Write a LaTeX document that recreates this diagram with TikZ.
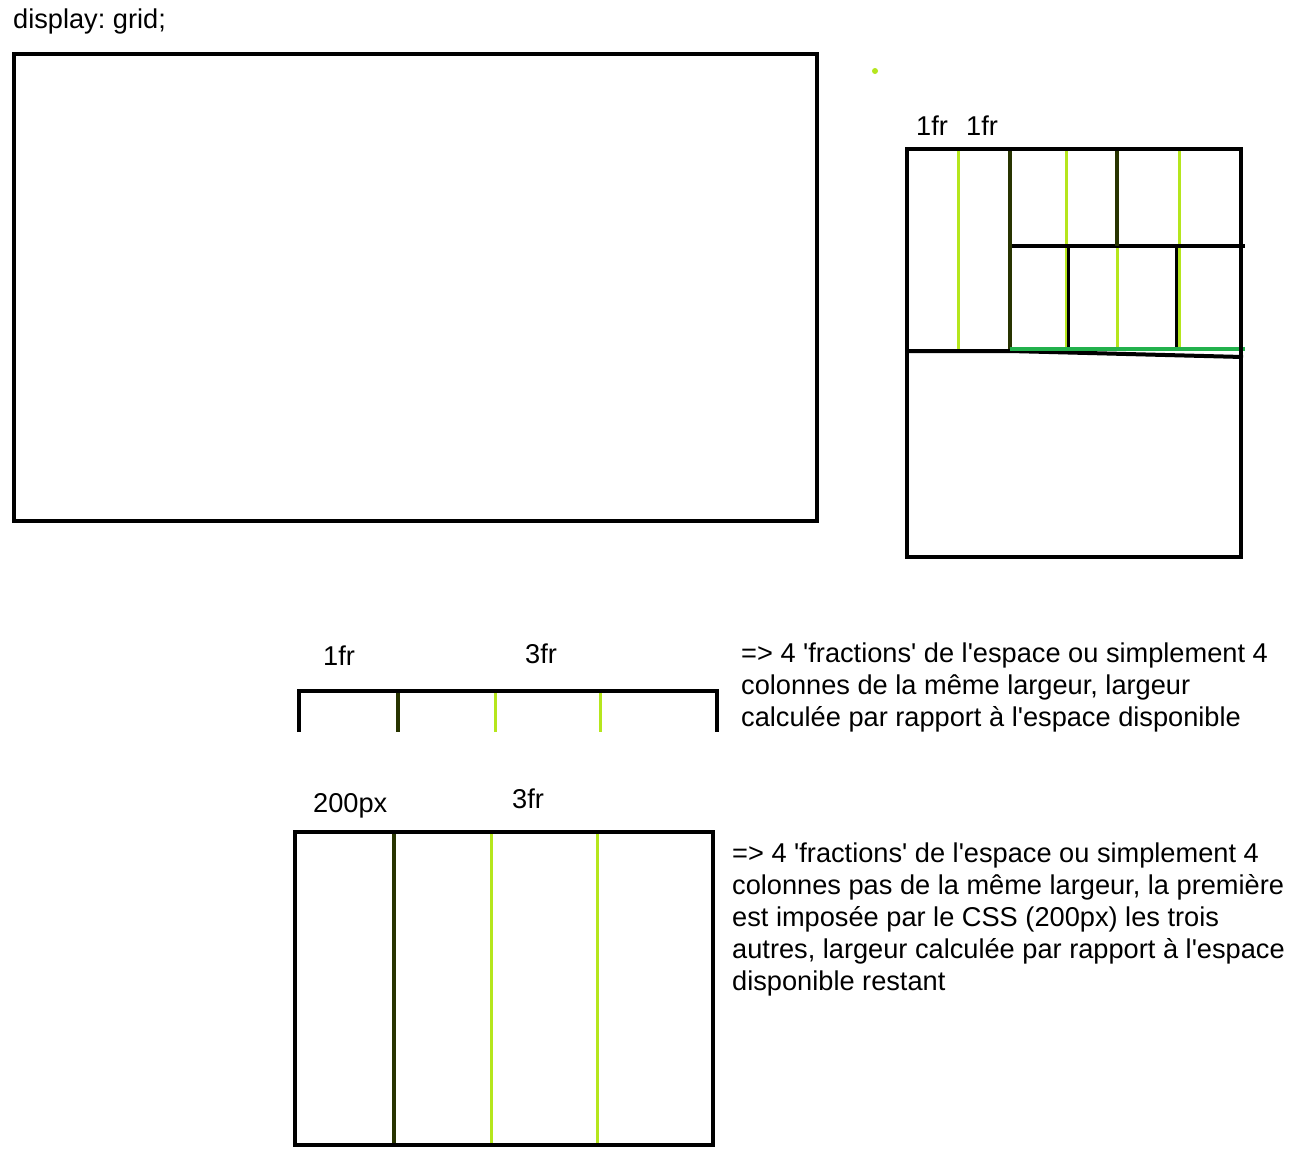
\documentclass[tikz,border=0pt]{standalone}
\usepackage{fontspec}
\setmainfont{Liberation Sans}[Ligatures=TeXOff]
\frenchspacing
\definecolor{lime}{RGB}{181,230,29}
\definecolor{darkcol}{RGB}{40,52,0}
\definecolor{pgreen}{RGB}{34,177,76}
\begin{document}
\begin{tikzpicture}[x=1pt,y=-1pt,
  frame/.style={draw=black,line width=4pt},
  bline/.style={draw=black,line width=4pt},
  lgline/.style={draw=lime,line width=3pt},
  dkline/.style={draw=darkcol,line width=3.5pt},
  gline/.style={draw=pgreen,line width=4pt},
  lbl/.style={font=\fontsize{27.2}{32}\selectfont,inner sep=0pt,anchor=base west},
]
\useasboundingbox (0,0) rectangle (1312,1168);
\fill[white] (0,0) rectangle (1312,1168);

% title
\node[lbl] (title) at (13,28) {display: grid;};

% big rect
\draw[frame] (14,54) rectangle (817,521);

% green dot
\fill[lime] (875,71) circle (3pt);

% top-right grid
\node[lbl] (fr1) at (916,135) {1fr};
\node[lbl] (fr2) at (966,135) {1fr};
\coordinate (trA) at (907,149);
\coordinate (trB) at (1241,557);
\draw[lgline] (958,149) -- (958,349);
\draw[lgline] (1066,149) -- (1066,349);
\draw[lgline] (1117,246) -- (1117,349);
\draw[lgline] (1179,149) -- (1179,349);
\draw[bline] (1010,246) -- (1245,246);
\draw[bline,line width=3pt] (1068,246) -- (1068,349);
\draw[bline,line width=3pt] (1176,246) -- (1176,349);
\draw[dkline] (1010,149) -- (1010,351);
\draw[dkline] (1117,149) -- (1117,246);
\draw[bline] (905,351) -- (1010,351) -- (1243,357);
\draw[gline] (1010,349) -- (1245,349);
\draw[frame] (trA) rectangle (trB);

% middle strip
\node[lbl] (m1) at (323,665) {1fr};
\node[lbl] (m3) at (525,663) {3fr};
\draw[lgline] (495,691) -- (495,732);
\draw[lgline] (600,691) -- (600,732);
\draw[dkline] (398,691) -- (398,732);
\draw[frame] (299,732) -- (299,691) -- (717,691) -- (717,732);

\node[lbl] (t1a) at (741,662) {=> 4 'fractions' de l'espace ou simplement 4};
\node[lbl] (t1b) at (741,694) {colonnes de la même largeur, largeur};
\node[lbl] (t1c) at (741,726) {calculée par rapport à l'espace disponible};

% bottom rect
\node[lbl] (b1) at (313,812) {200px};
\node[lbl] (b3) at (512,808) {3fr};
\draw[lgline] (491,834) -- (491,1144);
\draw[lgline] (597,834) -- (597,1144);
\draw[dkline] (394,834) -- (394,1144);
\draw[frame] (295,832) rectangle (713,1145);

\node[lbl] (t2a) at (732,862) {=> 4 'fractions' de l'espace ou simplement 4};
\node[lbl] (t2b) at (732,894) {colonnes pas de la même largeur, la première};
\node[lbl] (t2c) at (732,926) {est imposée par le CSS (200px) les trois};
\node[lbl] (t2d) at (732,958) {autres, largeur calculée par rapport à l'espace};
\node[lbl] (t2e) at (732,990) {disponible restant};
\end{tikzpicture}
\end{document}
